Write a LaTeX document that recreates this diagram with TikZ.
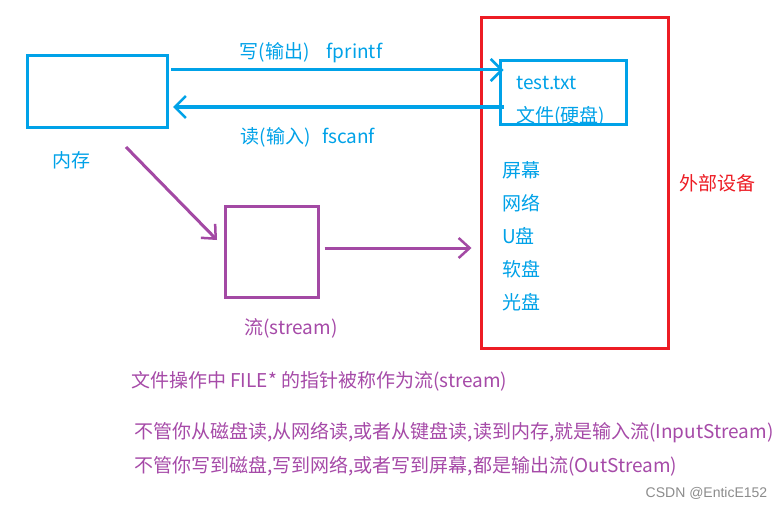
\documentclass[tikz,border=0pt]{standalone}
\usepackage{fontspec}
\setmainfont{Noto Sans CJK SC}
\newfontfamily\wmfont{Liberation Sans}
\usetikzlibrary{arrows.meta}
\definecolor{pblue}{HTML}{00A2E8}
\definecolor{pred}{HTML}{ED1C24}
\definecolor{ppurple}{HTML}{A349A4}
\definecolor{tpurple}{HTML}{A64AA8}
\tikzset{
  bluebox/.style={draw=pblue, line width=3pt, inner sep=0pt},
  purplebox/.style={draw=ppurple, line width=3pt, inner sep=0pt},
  redbox/.style={draw=pred, line width=3pt, inner sep=0pt},
  bluearrow/.style={draw=pblue, line width=3pt, -{Straight Barb[length=11pt,width=22pt,line width=2.5pt]}},
  purplearrow/.style={draw=ppurple, line width=3pt, -{Straight Barb[length=11pt,width=20pt,line width=2.5pt]}},
  btext/.style={text=pblue, inner sep=0pt, font=\fontsize{19}{22}\selectfont},
  ptext/.style={text=tpurple, inner sep=0pt, font=\fontsize{19}{22}\selectfont},
  rtext/.style={text=pred, inner sep=0pt, font=\fontsize{19}{22}\selectfont},
}
\begin{document}
\begin{tikzpicture}[x=1pt,y=-1pt]
\useasboundingbox[fill=white] (0,0) rectangle (783,508);

% boxes
\node[bluebox, minimum width=140pt, minimum height=71pt] (mem) at (97,91.5) {};
\node[redbox, minimum width=187pt, minimum height=330pt] (ext) at (574.5,183) {};
\node[bluebox, minimum width=126pt, minimum height=63pt] (file) at (563,92.5) {};
\node[purplebox, minimum width=93pt, minimum height=91pt] (stream) at (271.5,251.5) {};

% labels
\node[btext] (memlbl) at (71,160) {内存};
\node[btext] (wlbl) at (311,53) {写(输出)\hspace{0.9em}fprintf};
\node[btext] (rlbl) at (308,137) {读(输入)\hspace{0.6em}fscanf};
\node[btext, anchor=west] (t1) at (516,83) {test.txt};
\node[btext, anchor=west] (t2) at (516,116) {文件(硬盘)};
\node[btext, anchor=west] (d1) at (502,170) {屏幕};
\node[btext, anchor=west] (d2) at (502,203) {网络};
\node[btext, anchor=west] (d3) at (502,236) {U盘};
\node[btext, anchor=west] (d4) at (502,269) {软盘};
\node[btext, anchor=west] (d5) at (502,302) {光盘};
\node[rtext] (extlbl) at (717,183) {外部设备};
\node[ptext] (slbl) at (291,328) {流(stream)};
\node[ptext, anchor=west] (l1) at (131,381) {文件操作中 FILE* 的指针被称作为流(stream)};
\node[ptext, anchor=west] (l2) at (134,433) {不管你从磁盘读,从网络读,或者从键盘读,读到内存,就是输入流(InputStream)};
\node[ptext, anchor=west] (l3) at (134,466) {不管你写到磁盘,写到网络,或者写到屏幕,都是输出流(OutStream)};
\node[inner sep=0pt, text=black!45, font=\wmfont\fontsize{14}{16}\selectfont] (wm) at (706.5,493) {CSDN @EnticE152};

% connectors
\coordinate (wy) at (0,70);
\coordinate (ry) at (0,107);
\coordinate (dstart) at (126,147);
\coordinate (dend) at (217,240);
\coordinate (hy) at (0,248);
\draw[bluearrow] ([xshift=2.5pt]mem.east |- wy) -- ([xshift=5pt]file.west |- wy);
\draw[bluearrow] ([xshift=5pt]file.west |- ry) -- ([xshift=4.5pt]mem.east |- ry);
\draw[purplearrow] (dstart) -- (dend);
\draw[purplearrow] ([xshift=5pt]stream.east |- hy) -- ([xshift=-8pt]ext.west |- hy);
\end{tikzpicture}
\end{document}
